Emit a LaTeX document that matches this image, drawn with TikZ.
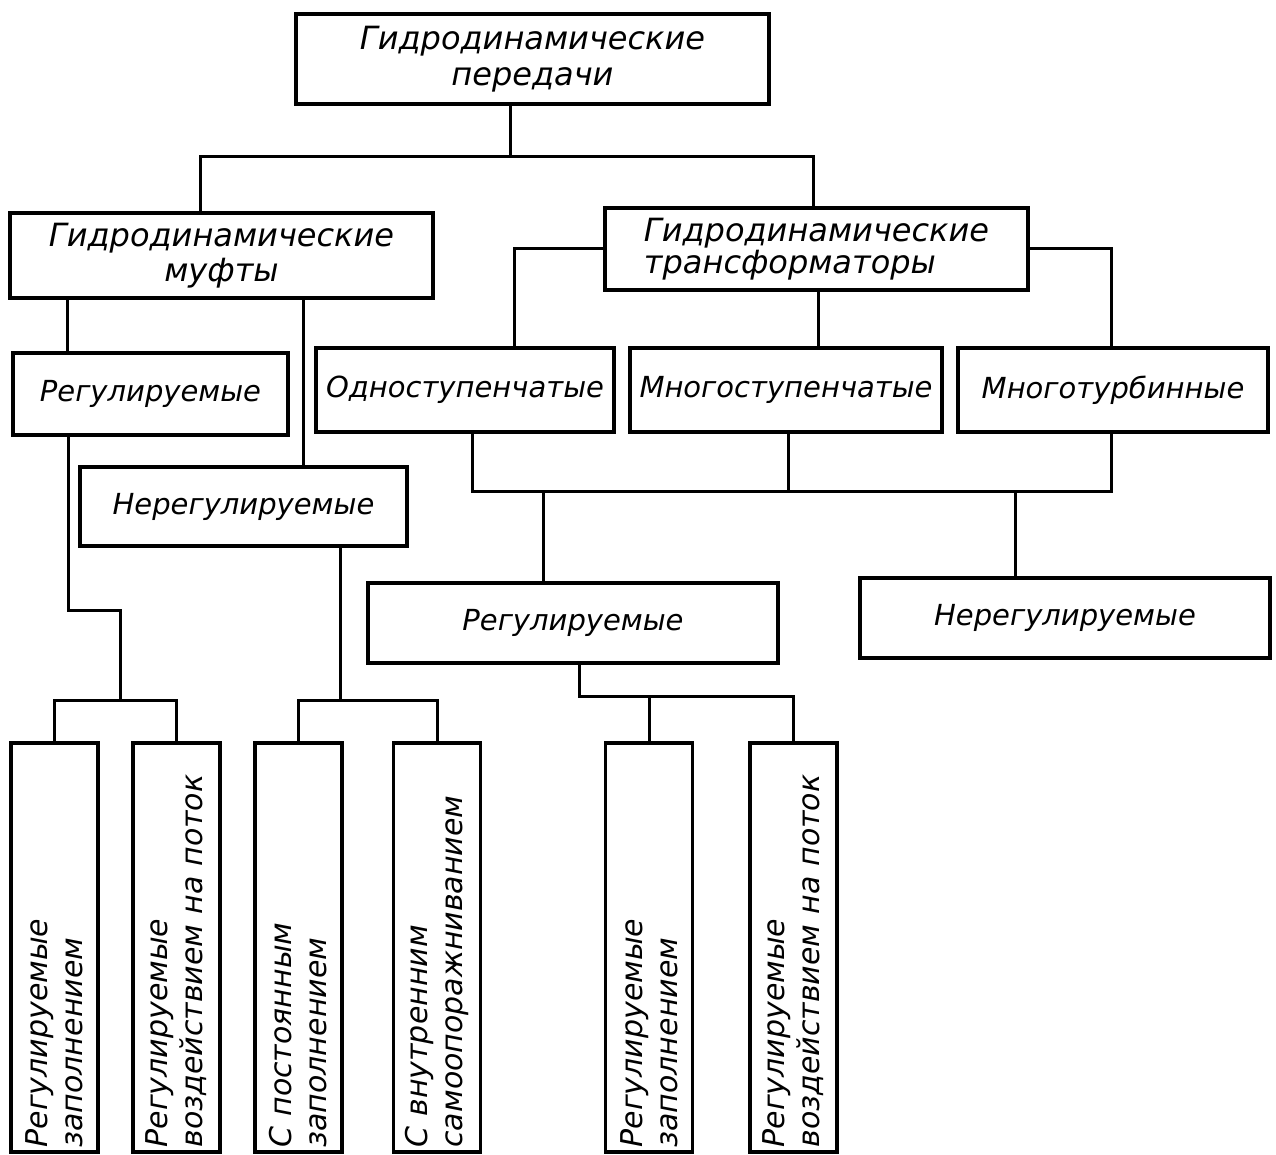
\documentclass[tikz,border=0pt]{standalone}
\usepackage{fontspec}
\setmainfont{DejaVu Sans}
\begin{document}
\begin{tikzpicture}[x=0.5pt, y=-0.5pt, line width=1.5pt,
    block/.style={draw, line width=1.8pt, align=center, inner sep=2pt,
      font=\itshape\fontsize{14.5}{16}\selectfont},
    head block/.style={block, font=\itshape\fontsize{16}{16}\selectfont},
    strip/.style={block, rotate=90, align=left, inner xsep=2pt,
      minimum width=204.5pt, minimum height=43.5pt, text width=200pt,
      font=\itshape\fontsize{15}{17.5}\selectfont}]
  \useasboundingbox (0,0) rectangle (1276,1155);
  % upper levels
  \node [head block, minimum width=236.5pt, minimum height=45pt,
    font=\itshape\fontsize{16}{18}\selectfont] (top) at (532.5,59)
    {Гидродинамические\\передачи};
  \node [head block, minimum width=211.5pt, minimum height=42.5pt,
    font=\itshape\fontsize{16}{17.5}\selectfont] (muft) at (221.5,255.5)
    {Гидродинамические\\муфты};
  \node [head block, minimum width=211.5pt, minimum height=41pt, align=left,
    font=\itshape\fontsize{16}{14.5}\selectfont] (trans) at (816.5,249)
    {Гидродинамические\\трансформаторы};
  \node [block, minimum width=137.5pt, minimum height=41pt] (reg1) at (150.5,394) {Регулируемые};
  \node [block, minimum width=163.5pt, minimum height=39.5pt] (ner1) at (243.5,506.5) {Нерегулируемые};
  \foreach \n/\x/\w/\t in {odn/465/149/Одноступенчатые, mnst/786/156/Многоступенчатые,
      mntb/1113/155/Многотурбинные}
    \node [block, minimum width=\w pt, minimum height=42pt] (\n) at (\x,390) {\t};
  \node [block, minimum width=205pt, minimum height=40pt] (reg2) at (573,623) {Регулируемые};
  \node [block, minimum width=205pt, minimum height=40pt] (ner2) at (1065,618) {Нерегулируемые};
  % vertical strips (rotated: east is the top side)
  \foreach \n/\x/\t in {b1/54.5/{Регулируемые\\заполнением},
      b2/176.5/{Регулируемые\\воздействием на поток},
      b3/298.5/{С постоянным\\заполнением},
      b4/437/{С внутренним\\самоопоражниванием},
      b5/649/{Регулируемые\\заполнением},
      b6/793.5/{Регулируемые\\воздействием на поток}}
    \node [strip] (\n) at (\x,947.5) {\t};
  % connectors
  \coordinate (j0) at (510,157);
  \draw (j0 |- top.south) -- (j0);
  \draw (muft.north -| 200,0) |- (j0) -| (trans.north -| 813,0);
  \draw (muft.south -| 67,0) -- (reg1.north -| 67,0);
  \draw (muft.south -| 303,0) -- (ner1.north -| 303,0);
  \draw (trans.west) -| (odn.north -| 514,0);
  \draw (trans.south -| 818,0) -- (mnst.north -| 818,0);
  \draw (trans.east) -| (mntb.north -| 1111,0);
  \coordinate (j1) at (788,492);
  \draw (odn.south -| 472,0) |- (j1) -| (mntb.south -| 1111,0);
  \draw (mnst.south -| j1) -- (j1);
  \draw (reg2.north -| 543,0) -- (j1 -| 543,0);
  \draw (ner2.north -| 1015,0) -- (j1 -| 1015,0);
  \coordinate (j2) at (120,700);
  \draw (reg1.south -| 68,0) |- (j2 |- 0,610) -- (j2);
  \draw (b1.east) |- (j2) -| (b2.east);
  \coordinate (j3) at (340,700);
  \draw (ner1.south -| j3) -- (j3);
  \draw (b3.east) |- (j3) -| (b4.east);
  \coordinate (j4) at (579,696);
  \draw (reg2.south -| j4) -- (j4) -| (b6.east);
  \draw (b5.east) -- (b5.east |- j4);
\end{tikzpicture}
\end{document}
